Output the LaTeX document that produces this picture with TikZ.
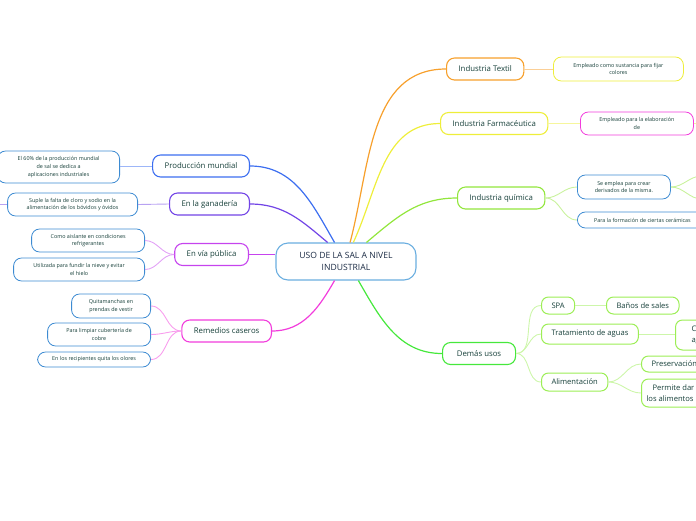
\documentclass[tikz,border=0pt]{standalone}
\usepackage{fontspec}
\setmainfont{Open Sans}
\usetikzlibrary{positioning}

\definecolor{txt}{HTML}{17403A}
\definecolor{hubtxt}{HTML}{1C2C45}
\definecolor{hubc}{HTML}{6AAEE0}
\definecolor{prodc}{HTML}{3C6EF0}
\definecolor{ganc}{HTML}{7244E6}
\definecolor{viac}{HTML}{C644EE}
\definecolor{remc}{HTML}{F23CDC}
\definecolor{texc}{HTML}{F7A02C}
\definecolor{farc}{HTML}{EEEE3A}
\definecolor{quic}{HTML}{92E63C}
\definecolor{demc}{HTML}{46E83C}
\definecolor{leafc}{HTML}{3D8BD2}
\definecolor{limec}{HTML}{9CEE55}

\begin{document}
\begin{tikzpicture}[
      x=1pt, y=-1pt,
      hub/.style={draw=hubc, line width=1.1pt, fill=white, rounded corners=12pt,
                  minimum width=140pt, minimum height=37pt, inner sep=0pt,
                  align=center, text=hubtxt, font=\fontsize{8.6}{12}\selectfont},
      topic/.style={draw=#1, line width=1.1pt, fill=white, rounded corners=8pt,
                    minimum height=22pt, inner xsep=12pt, text=txt,
                    font=\fontsize{7.8}{10}\selectfont},
      sub/.style={draw=limec, line width=1pt, fill=white, rounded corners=7pt,
                  minimum height=18pt, inner xsep=10pt, align=center, text=txt,
                  font=\fontsize{7.6}{10.5}\selectfont},
      leaf/.style={draw=#1, line width=0.8pt, fill=white, rounded corners=8pt,
                   inner xsep=6pt, inner ysep=4pt, minimum height=15pt,
                   align=center, text=txt, font=\fontsize{5.4}{7.6}\selectfont},
      leaf/.default=leafc,
      link/.style={draw=#1, line width=1.2pt},
      twig/.style={draw=#1!50!white, line width=0.9pt}
    ]
    \useasboundingbox (0,0) rectangle (696,520);
    \clip (0,0) rectangle (696,520);

    % central topic
    \node[hub] (hub) at (346,261.5) {USO DE LA SAL A NIVEL\\INDUSTRIAL};

    % left branches
    \node[topic=prodc, anchor=east] (prod) at (250,166) {Producción mundial};
    \node[topic=ganc, anchor=east]  (gan)  at (250,204) {En la ganadería};
    \node[topic=viac, anchor=east]  (via)  at (249,254.5) {En vía pública};
    \node[topic=remc, anchor=east]  (rem)  at (272,331) {Remedios caseros};

    % right branches
    \node[topic=texc, anchor=west] (tex) at (446,69) {Industria Textil};
    \node[topic=farc, anchor=west] (far) at (440,123.5) {Industria Farmacéutica};
    \node[topic=quic, anchor=west] (qui) at (457,198) {Industria química};
    \node[topic=demc, anchor=west, minimum width=73pt] (dem) at (442,353.5) {Demás usos};

    % left leaves
    \node[leaf, anchor=east, minimum width=122pt, minimum height=32pt] (l60) at (120,167)
      {El 60\% de la producción mundial\\de sal se dedica a\\aplicaciones industriales};
    \node[leaf, anchor=east, minimum width=130pt, minimum height=23pt] (lsup) at (138,204.5)
      {Suple la falta de cloro y sodio en la\\alimentación de los bóvidos y óvidos};
    \node[leaf, anchor=east, minimum width=113pt, minimum height=23pt] (lais) at (145,240.5)
      {Como aislante en condiciones\\refrigerantes};
    \node[leaf, anchor=east, minimum width=131pt, minimum height=23pt] (lfun) at (145,269.5)
      {Utilizada para fundir la nieve y evitar\\el hielo};
    \node[leaf, anchor=east, minimum width=79pt, minimum height=24pt] (lqui) at (151,306)
      {Quitamanchas en\\prendas de vestir};
    \node[leaf, anchor=east, minimum width=103pt, minimum height=23pt] (llim) at (151,334.5)
      {Para limpiar cubertería de\\cobre};
    \node[leaf, anchor=east, minimum width=113pt] (lolo) at (151,359.5)
      {En los recipientes quita los olores};

    % right leaves
    \node[leaf=farc, anchor=west, minimum width=130pt, minimum height=24pt] (ltex) at (553,69)
      {Empleado como sustancia para fijar\\colores};
    \node[leaf=remc, anchor=west, minimum width=113pt, minimum height=23pt] (lfar) at (580,123.5)
      {Empleado para la elaboración\\de};
    \node[leaf, anchor=west, minimum width=93pt, minimum height=24pt] (lder) at (577,187)
      {Se emplea para crear\\derivados de la misma.};
    \node[leaf, anchor=west, minimum width=130pt, minimum height=16pt] (lcer) at (577,220)
      {Para la formación de ciertas cerámicas};

    % other uses
    \node[sub, anchor=west, minimum height=17pt] (spa) at (541,305.5) {SPA};
    \node[sub, anchor=west, minimum height=17pt] (bano) at (606,305.5) {Baños de sales};
    \node[sub, anchor=west, minimum height=20pt] (agua) at (541,334) {Tratamiento de aguas};
    \node[sub, anchor=west, minimum height=30pt, inner xsep=16pt] (clor) at (675,335)
      {Cloración del\\agua potable};
    \node[sub, anchor=west] (alim) at (541,382) {Alimentación};
    \node[sub, anchor=west, minimum height=16pt] (pres) at (641,364) {Preservación};
    \node[sub, anchor=west, minimum height=28pt, inner xsep=5pt, align=left] (perm) at (641,393)
      {\hspace*{6pt}Permite dar sabor a\\los alimentos};

    % loose ends leaving the page
    \coordinate (q1) at (702,176);
    \coordinate (q2) at (702,199);
    \coordinate (f1) at (702,123.5);
    \coordinate (s1) at (-6,204.5);

    % main links
    \draw[link=prodc] (prod.east) to[out=0, in=120] (hub.121);
    \draw[link=ganc]  (gan.east)  to[out=0, in=140] (hub.134);
    \draw[link=viac]  (via.east)  -- (hub.west |- via.east);
    \draw[link=remc]  (rem.east)  to[out=0, in=240] (hub.239);
    \draw[link=texc]  (tex.west)  to[out=180, in=75] (hub.78);
    \draw[link=farc]  (far.west)  to[out=180, in=65] (hub.69);
    \draw[link=quic]  (qui.west)  to[out=180, in=40] (hub.43);
    \draw[link=demc]  (dem.west)  to[out=180, in=300] (hub.303);

    % twigs to leaves
    \draw[twig=prodc] (prod.west) -- (l60.east |- prod.west);
    \draw[twig=ganc]  (gan.west)  -- (lsup.east);
    \draw[twig=ganc]  (lsup.west) -- (s1);
    \foreach \n in {lais,lfun}
      \draw[twig=viac] (via.west) to[out=180, in=0] (\n.east);
    \foreach \n in {lqui,llim,lolo}
      \draw[twig=remc] (rem.west) to[out=180, in=0] (\n.east);
    \draw[twig=texc] (tex.east) -- (ltex.west);
    \draw[twig=farc] (far.east) -- (lfar.west);
    \draw[twig=farc] (lfar.east) -- (f1);
    \foreach \n in {lder,lcer}
      \draw[twig=quic] (qui.east) to[out=0, in=180] (\n.west);
    \foreach \n in {q1,q2}
      \draw[twig=quic] (lder.east) to[out=0, in=180] (\n);
    \foreach \n in {spa,agua,alim}
      \draw[twig=limec] (dem.east) to[out=0, in=180] (\n.west);
    \draw[twig=limec] (spa.east) -- (bano.west);
    \draw[twig=limec] (agua.east) -- (clor.west |- agua.east);
    \foreach \n in {pres,perm}
      \draw[twig=limec] (alim.east) to[out=0, in=180] (\n.west);
  \end{tikzpicture}
\end{document}
